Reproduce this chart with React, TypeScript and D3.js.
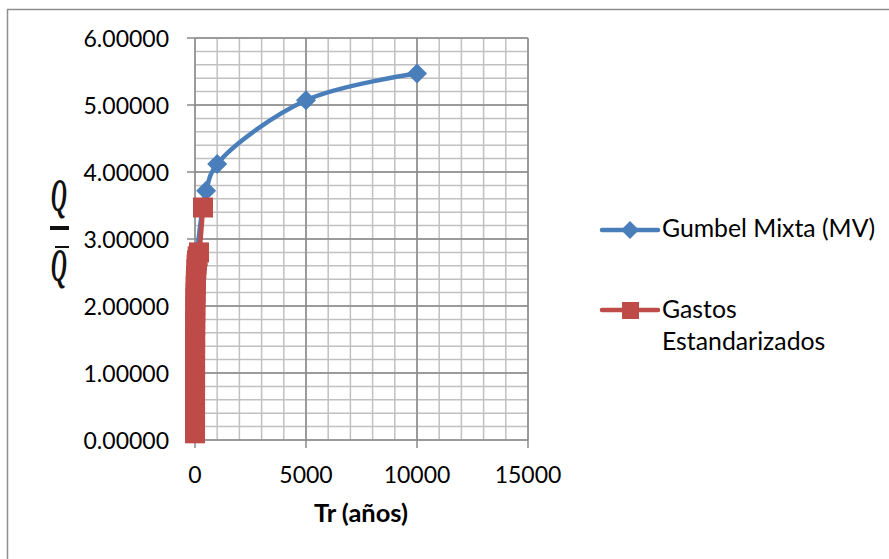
import React from "react";
import * as d3 from "d3";

const gumbelTr = [2, 5, 10, 20, 50, 100, 500, 1000, 5000, 10000];
const gumbelQ = [0.9, 1.4, 1.75, 2.1, 2.5, 2.8, 3.72, 4.12, 5.07, 5.47];

const gastosTr = [360, 180, 120, 90, 72, 60, 45, 36, 30, 24, 20, 15, 12, 10, 8, 6, 5, 4, 3, 2.5, 2, 1.8, 1.6, 1.4, 1.3, 1.2, 1.1, 1.05, 1.02, 1.0];
const gastosQ = [3.47, 2.8, 2.74, 2.68, 2.62, 2.55, 2.45, 2.38, 2.3, 2.2, 2.12, 2.0, 1.9, 1.8, 1.7, 1.55, 1.45, 1.35, 1.2, 1.1, 0.95, 0.88, 0.8, 0.7, 0.6, 0.5, 0.4, 0.3, 0.2, 0.1];

const xTicks = [0, 5000, 10000, 15000];
const yTicks = [0, 1, 2, 3, 4, 5, 6];
const seriesNames = ["Gumbel Mixta (MV)", "Gastos", "Estandarizados"];
const xTitle = "Tr (años)";

const BLUE = "#4A7EBB";
const RED = "#BE4B48";
const FONT = "Lato, 'Open Sans', sans-serif";

export default function App() {
  const x = d3.scaleLinear().domain([0, 15000]).range([195, 528]);
  const y = d3.scaleLinear().domain([0, 6]).range([440, 38]);

  const minorX = d3.range(0, 15001, 1000);
  const minorY = d3.range(0, 6.0001, 0.2);

  const line = d3
    .line<[number, number]>()
    .x((d) => x(d[0]))
    .y((d) => y(d[1]))
    .curve(d3.curveCatmullRom.alpha(0.5));

  const blueData: [number, number][] = gumbelTr.map((t, i) => [t, gumbelQ[i]]);
  const redData: [number, number][] = gastosTr.map((t, i) => [t, gastosQ[i]]);

  const diamond = (cx: number, cy: number, r: number) =>
    `M${cx},${cy - r}L${cx + r},${cy}L${cx},${cy + r}L${cx - r},${cy}Z`;

  return (
    <svg
      width={889}
      height={559}
      style={{ position: "absolute", left: 0, top: 0, background: "#fff" }}
    >
      <rect x={0} y={0} width={889} height={559} fill="#fff" />
      <rect x={7.5} y={9.5} width={920} height={620} fill="none" stroke="#8f8f8f" strokeWidth={1.5} />

      {/* minor gridlines */}
      {minorX.map((v) => (
        <line key={"mx" + v} x1={x(v)} x2={x(v)} y1={y(0)} y2={y(6)} stroke="#c0c0c0" strokeWidth={1.5} />
      ))}
      {minorY.map((v) => (
        <line key={"my" + v} x1={x(0)} x2={x(15000)} y1={y(v)} y2={y(v)} stroke="#c0c0c0" strokeWidth={1.5} />
      ))}
      {/* major gridlines */}
      {xTicks.map((v) => (
        <line key={"Mx" + v} x1={x(v)} x2={x(v)} y1={y(0)} y2={y(6)} stroke="#8a8a8a" strokeWidth={1.5} />
      ))}
      {yTicks.map((v) => (
        <line key={"My" + v} x1={x(0)} x2={x(15000)} y1={y(v)} y2={y(v)} stroke="#8a8a8a" strokeWidth={1.5} />
      ))}
      {/* ticks */}
      {yTicks.map((v) => (
        <line key={"ty" + v} x1={x(0) - 8} x2={x(0)} y1={y(v)} y2={y(v)} stroke="#8a8a8a" strokeWidth={1.5} />
      ))}
      {xTicks.map((v) => (
        <line key={"tx" + v} x1={x(v)} x2={x(v)} y1={y(0)} y2={y(0) + 8} stroke="#8a8a8a" strokeWidth={1.5} />
      ))}

      {/* tick labels */}
      {yTicks.map((v) => (
        <text key={"ly" + v} x={169} y={y(v) + 9} textAnchor="end" fontFamily={FONT} fontSize={23} fill="#000">
          {v.toFixed(5)}
        </text>
      ))}
      {xTicks.map((v) => (
        <text key={"lx" + v} x={x(v)} y={483} textAnchor="middle" fontFamily={FONT} fontSize={23} fill="#000">
          {v}
        </text>
      ))}

      {/* axis title */}
      <text x={361} y={522} textAnchor="middle" fontFamily={FONT} fontSize={25.5} fontWeight="bold" fill="#000">
        {xTitle}
      </text>

      {/* y label: Q / Q-bar */}
      <g fill="#111">
        <text
          transform="translate(59,211) scale(1,2.1)"
          textAnchor="middle"
          fontFamily="'Liberation Serif', serif"
          fontStyle="italic"
          fontWeight="bold"
          fontSize={22}
        >
          Q
        </text>
        <rect x={50} y={226} width={19} height={4} />
        <rect x={55} y={246} width={14} height={2} />
        <text
          transform="translate(59,281) scale(1,2.1)"
          textAnchor="middle"
          fontFamily="'Liberation Serif', serif"
          fontStyle="italic"
          fontWeight="bold"
          fontSize={22}
        >
          Q
        </text>
      </g>

      {/* blue series */}
      <path d={line(blueData) || ""} fill="none" stroke={BLUE} strokeWidth={4.5} strokeLinejoin="round" />
      {blueData.map((d, i) => (
        <path key={"bd" + i} d={diamond(x(d[0]), y(d[1]), 10)} fill={BLUE} />
      ))}

      {/* red series */}
      <path d={line(redData) || ""} fill="none" stroke={RED} strokeWidth={4.5} strokeLinejoin="round" />
      {redData.map((d, i) => (
        <rect key={"rs" + i} x={x(d[0]) - 10} y={y(d[1]) - 10} width={20} height={20} fill={RED} />
      ))}

      {/* legend */}
      <line x1={602} x2={658} y1={230} y2={230} stroke={BLUE} strokeWidth={4.5} strokeLinecap="round" />
      <path d={diamond(630, 230, 9)} fill={BLUE} />
      <text x={662} y={237} fontFamily={FONT} fontSize={24.8} fill="#000">
        {seriesNames[0]}
      </text>
      <line x1={602} x2={658} y1={310} y2={310} stroke={RED} strokeWidth={4.5} strokeLinecap="round" />
      <rect x={622} y={302} width={17} height={17} fill={RED} />
      <text x={662} y={318} fontFamily={FONT} fontSize={24.8} fill="#000">
        {seriesNames[1]}
      </text>
      <text x={662} y={350} fontFamily={FONT} fontSize={24.8} fill="#000">
        {seriesNames[2]}
      </text>
    </svg>
  );
}
